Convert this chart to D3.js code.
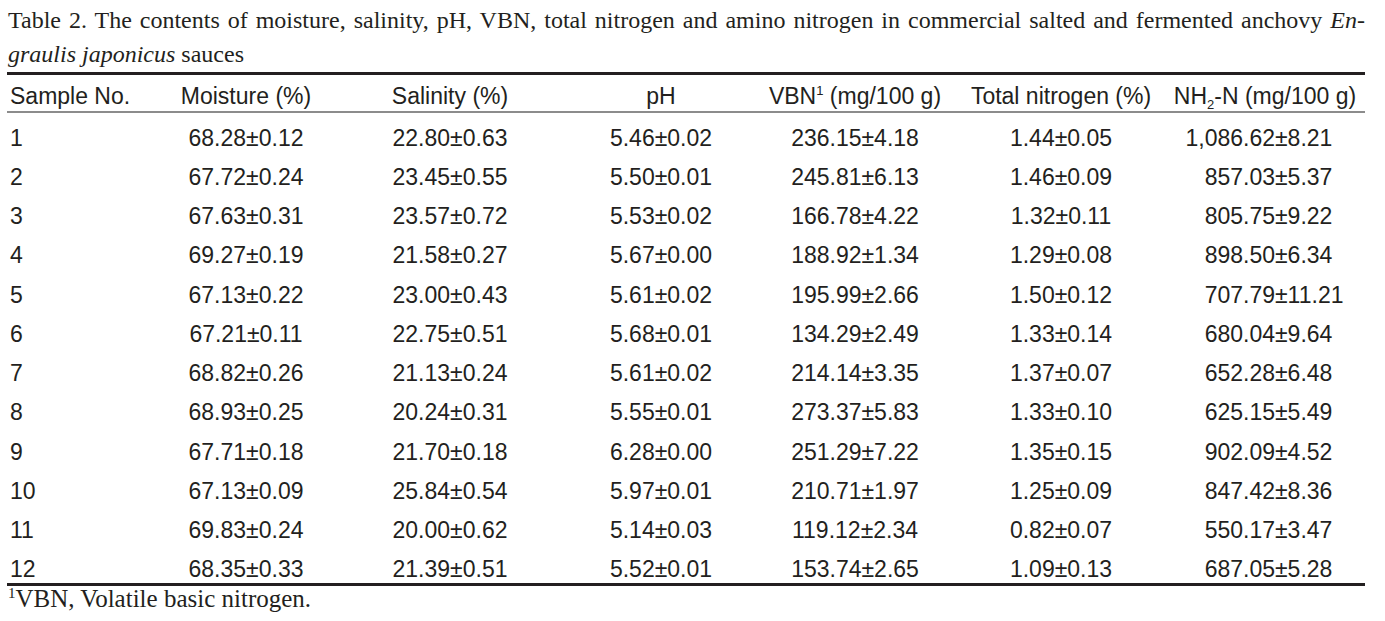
<!DOCTYPE html>
<html>
<head>
<meta charset="utf-8">
<script src="https://cdn.jsdelivr.net/npm/d3@7"></script>
<style>
	body{ margin:0; background:#fff; }
	svg{ display:block; }
	.serif{ font-family:"Liberation Serif","Times New Roman",serif; }
	.sans{ font-family:"Liberation Sans Narrow","Arial Narrow","Liberation Sans",sans-serif; }
</style>
</head>
<body>
<svg id="table-svg" width="1385" height="621"></svg>
<script>
var samples   = ["1","2","3","4","5","6","7","8","9","10","11","12"];
var moisture  = [68.28,67.72,67.63,69.27,67.13,67.21,68.82,68.93,67.71,67.13,69.83,68.35];
var moistureSd= [0.12,0.24,0.31,0.19,0.22,0.11,0.26,0.25,0.18,0.09,0.24,0.33];
var salinity  = [22.80,23.45,23.57,21.58,23.00,22.75,21.13,20.24,21.70,25.84,20.00,21.39];
var salinitySd= [0.63,0.55,0.72,0.27,0.43,0.51,0.24,0.31,0.18,0.54,0.62,0.51];
var ph        = [5.46,5.50,5.53,5.67,5.61,5.68,5.61,5.55,6.28,5.97,5.14,5.52];
var phSd      = [0.02,0.01,0.02,0.00,0.02,0.01,0.02,0.01,0.00,0.01,0.03,0.01];
var vbn       = [236.15,245.81,166.78,188.92,195.99,134.29,214.14,273.37,251.29,210.71,119.12,153.74];
var vbnSd     = [4.18,6.13,4.22,1.34,2.66,2.49,3.35,5.83,7.22,1.97,2.34,2.65];
var totalN    = [1.44,1.46,1.32,1.29,1.50,1.33,1.37,1.33,1.35,1.25,0.82,1.09];
var totalNSd  = [0.05,0.09,0.11,0.08,0.12,0.14,0.07,0.10,0.15,0.09,0.07,0.13];
var aminoN    = [1086.62,857.03,805.75,898.50,707.79,680.04,652.28,625.15,902.09,847.42,550.17,687.05];
var aminoNSd  = [8.21,5.37,9.22,6.34,11.21,9.64,6.48,5.49,4.52,8.36,3.47,5.28];

var columns = ["sample","moisture","salinity","ph","vbn","totalN","aminoN"];
var titleLine1 = "Table 2. The contents of moisture, salinity, pH, VBN, total nitrogen and amino nitrogen in commercial salted and fermented anchovy ";
var titleItalic1 = "En-";
var titleItalic2 = "graulis japonicus";
var titleRest2 = " sauces";
var footnote = "VBN, Volatile basic nitrogen.";

var svg = d3.select("#table-svg");
var ink = "#231f20";
var left = 7, right = 1365;

var fmt2 = d3.format(".2f");
var fmtC = d3.format(",.2f");

var rows = samples.map(function(s, i){
	return {
		sample: { m: s },
		moisture: { m: fmt2(moisture[i]), s: fmt2(moistureSd[i]) },
		salinity: { m: fmt2(salinity[i]), s: fmt2(salinitySd[i]) },
		ph: { m: fmt2(ph[i]), s: fmt2(phSd[i]) },
		vbn: { m: fmt2(vbn[i]), s: fmt2(vbnSd[i]) },
		totalN: { m: fmt2(totalN[i]), s: fmt2(totalNSd[i]) },
		aminoN: { m: fmtC(aminoN[i]), s: fmt2(aminoNSd[i]) },
		key: s
	};
});

// scales
var colX = d3.scaleOrdinal()
	.domain(columns)
	.range([10, 246, 450, 661, 855, 1061, 1265]);
// the last column is aligned on the ± sign
var pmX = 1275;
var rowY = d3.scaleBand()
	.domain(samples)
	.range([118, 589]);

// title (line 1 justified to the table width)
var t1 = svg.append("text").attr("class", "serif")
	.attr("x", 8).attr("y", 28).attr("font-size", 24).attr("fill", ink);
t1.append("tspan").text(titleLine1);
t1.append("tspan").attr("font-style", "italic").text(titleItalic1);
var natural = t1.node().getComputedTextLength();
var spaces = titleLine1.split(" ").length - 1;
t1.attr("word-spacing", ((right - 8) - natural) / spaces);

var t2 = svg.append("text").attr("class", "serif")
	.attr("x", 8).attr("y", 62).attr("font-size", 24).attr("fill", ink);
t2.append("tspan").attr("font-style", "italic").text(titleItalic2);
t2.append("tspan").text(titleRest2);

// rules
svg.append("line").attr("x1", left).attr("x2", right).attr("y1", 73.5).attr("y2", 73.5)
	.attr("stroke", ink).attr("stroke-width", 3);
svg.append("line").attr("x1", left).attr("x2", right).attr("y1", 112).attr("y2", 112)
	.attr("stroke", "#666").attr("stroke-width", 1.5);
svg.append("line").attr("x1", left).attr("x2", right).attr("y1", 584.5).attr("y2", 584.5)
	.attr("stroke", ink).attr("stroke-width", 3);

// header
var header = svg.append("g").attr("class", "sans").attr("font-size", 23).attr("fill", ink);
var hy = 104;
header.append("text").attr("x", colX("sample")).attr("y", hy).text("Sample No.");
header.append("text").attr("x", colX("moisture")).attr("y", hy).attr("text-anchor", "middle").text("Moisture (%)");
header.append("text").attr("x", colX("salinity")).attr("y", hy).attr("text-anchor", "middle").text("Salinity (%)");
header.append("text").attr("x", colX("ph")).attr("y", hy).attr("text-anchor", "middle").text("pH");
var hv = header.append("text").attr("x", colX("vbn")).attr("y", hy).attr("text-anchor", "middle");
hv.append("tspan").text("VBN");
hv.append("tspan").attr("font-size", 13).attr("dy", -9).text("1");
hv.append("tspan").attr("dy", 9).text(" (mg/100 g)");
header.append("text").attr("x", colX("totalN")).attr("y", hy).attr("text-anchor", "middle").text("Total nitrogen (%)");
var ha = header.append("text").attr("x", colX("aminoN")).attr("y", hy).attr("text-anchor", "middle");
ha.append("tspan").text("NH");
ha.append("tspan").attr("font-size", 13).attr("dy", 5).text("2");
ha.append("tspan").attr("dy", -5).text("-N (mg/100 g)");

// body
var body = svg.append("g").attr("class", "sans").attr("font-size", 23).attr("fill", ink);
var rowG = body.selectAll("g.row").data(rows).enter()
	.append("g").attr("class", "row")
	.attr("transform", function(d){ return "translate(0," + (rowY(d.key) + rowY.bandwidth() / 2 + 8) + ")"; });

rowG.each(function(d){
	var g = d3.select(this);
	columns.forEach(function(c){
		var cell = d[c];
		if(c === "sample"){
			g.append("text").attr("x", colX(c)).text(cell.m);
		}else if(c === "aminoN"){
			g.append("text").attr("x", pmX).attr("text-anchor", "end").text(cell.m);
			g.append("text").attr("x", pmX).text("\u00b1" + cell.s);
		}else{
			g.append("text").attr("x", colX(c)).attr("text-anchor", "middle")
				.text(cell.m + "\u00b1" + cell.s);
		}
	});
});

// footnote
var fn = svg.append("text").attr("class", "serif")
	.attr("x", 8).attr("y", 607).attr("font-size", 25).attr("fill", ink);
fn.append("tspan").attr("font-size", 15).attr("dy", -9).text("1");
fn.append("tspan").attr("dy", 9).text(footnote);
</script>
</body>
</html>
